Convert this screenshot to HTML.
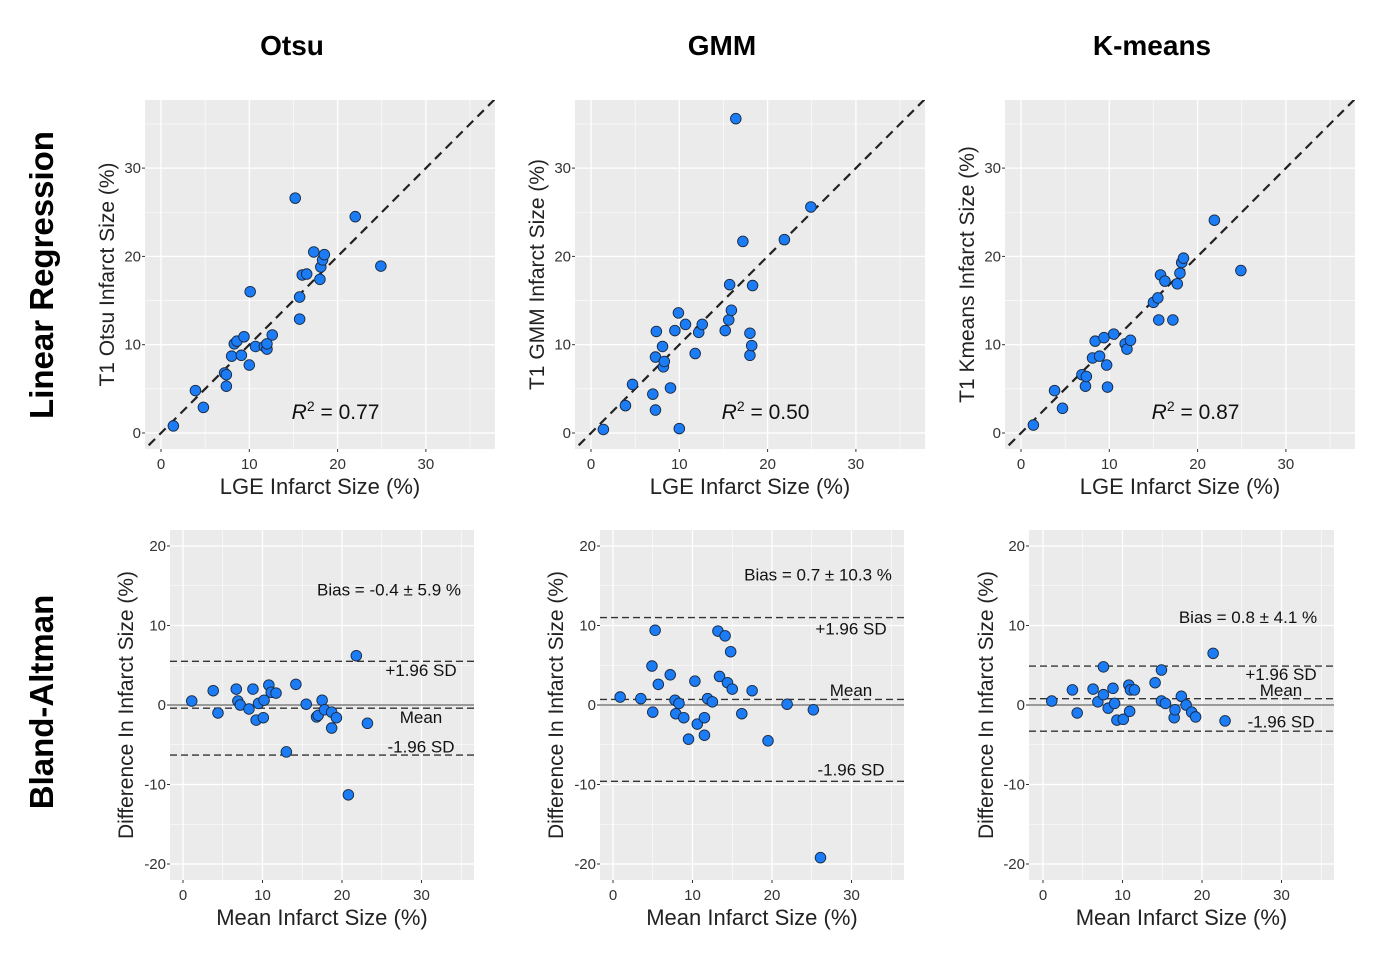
<!DOCTYPE html>
<html><head><meta charset="utf-8"><style>
body{margin:0;background:#fff;width:1400px;height:968px;overflow:hidden}
svg text{font-family:"Liberation Sans",Arial,sans-serif}
</style></head><body>
<svg id="fig" width="1400" height="968" viewBox="0 0 1400 968"></svg>
<script>
// ---- data ----
const otsuLgeX=[1.4,3.9,4.8,7.2,7.4,7.4,8.0,8.3,8.6,9.1,9.4,10.0,10.1,10.7,11.7,12.0,12.0,12.6,15.2,15.7,15.7,16.0,16.5,17.3,18.0,18.1,18.3,18.5,22.0,24.9];
const otsuT1Y=[0.8,4.8,2.9,6.8,6.6,5.3,8.7,10.1,10.4,8.8,10.9,7.7,16.0,9.8,9.8,9.5,10.1,11.1,26.6,15.4,12.9,17.9,18.0,20.5,17.4,18.8,19.6,20.2,24.5,18.9];
const gmmLgeX=[1.4,3.9,4.7,7.0,7.3,7.3,7.4,8.1,8.2,8.3,9.0,9.5,9.9,10.0,10.7,11.8,12.2,12.6,15.2,15.6,15.7,15.9,16.4,17.2,18.0,18.0,18.2,18.3,21.9,24.9];
const gmmT1Y=[0.4,3.1,5.5,4.4,2.6,8.6,11.5,9.8,7.5,8.1,5.1,11.6,13.6,0.5,12.3,9.0,11.4,12.3,11.6,12.8,16.8,13.9,35.6,21.7,11.3,8.8,9.9,16.7,21.9,25.6];
const kmLgeX=[1.4,3.8,4.7,6.9,7.3,7.4,8.1,8.4,8.9,9.4,9.7,9.8,10.5,11.8,12.0,12.4,15.0,15.5,15.6,15.8,16.3,17.2,17.7,18.0,18.2,18.4,21.9,24.9];
const kmT1Y=[0.9,4.8,2.8,6.6,5.3,6.4,8.5,10.4,8.7,10.8,7.7,5.2,11.2,10.1,9.5,10.5,14.8,15.3,12.8,17.9,17.2,12.8,16.9,18.1,19.3,19.8,24.1,18.4];
const r2Labels=["0.77","0.50","0.87"];
const otsuBaX=[1.1,3.8,4.4,6.7,6.9,7.2,8.3,8.8,9.2,9.5,10.1,10.2,10.8,11.1,11.7,13.0,14.2,15.5,16.8,17.0,17.5,17.8,18.7,18.7,19.3,20.8,21.8,23.2];
const otsuBaY=[0.5,1.8,-1.0,2.0,0.5,0.0,-0.5,2.0,-1.9,0.2,-1.6,0.6,2.5,1.6,1.5,-5.9,2.6,0.1,-1.5,-1.3,0.6,-0.6,-2.9,-0.9,-1.6,-11.3,6.2,-2.3];
const gmmBaX=[0.9,3.5,4.9,5.0,5.3,5.7,7.2,7.8,7.9,8.3,8.9,9.5,10.3,10.6,11.5,11.5,11.9,12.5,13.2,13.4,14.1,14.4,14.8,15.0,16.2,17.5,19.5,21.9,25.2,26.1];
const gmmBaY=[1.0,0.8,4.9,-0.9,9.4,2.6,3.8,0.6,-1.1,0.2,-1.6,-4.3,3.0,-2.4,-1.6,-3.8,0.8,0.4,9.3,3.6,8.7,2.8,6.7,2.0,-1.1,1.8,-4.5,0.1,-0.6,-19.2];
const kmBaX=[1.1,3.7,4.3,6.3,6.9,7.6,7.6,8.2,8.8,9.0,9.3,10.1,10.8,10.9,11.0,11.5,14.1,14.9,14.9,15.4,16.5,16.6,17.4,18.0,18.7,19.2,21.4,22.9];
const kmBaY=[0.5,1.9,-1.0,2.0,0.4,4.8,1.3,-0.4,2.1,0.2,-1.9,-1.8,2.5,-0.8,1.9,1.9,2.8,4.4,0.5,0.2,-1.6,-0.6,1.1,0.0,-0.9,-1.5,6.5,-2.0];
const biasVals=[-0.4,0.7,0.8];
const sdVals=[5.9,10.3,4.1];
const regTicks=[0,10,20,30];
const baYTicks=[20,10,0,-10,-20];
const baXTicks=[0,10,20,30];

const NS="http://www.w3.org/2000/svg";
const svg=document.getElementById('fig');
function el(tag,attrs,parent,text){const e=document.createElementNS(NS,tag);for(const k in attrs)e.setAttribute(k,attrs[k]);if(text!==undefined)e.textContent=text;(parent||svg).appendChild(e);return e;}

function panel(cfg){
  const g=el('g',{},svg);
  
  
  const L=cfg.left,R=cfg.right,T=cfg.top,B=cfg.bottom;
  const sx=v=>cfg.x0+v*cfg.kx, sy=v=>cfg.y0-v*cfg.ky;
  const bg=el('rect',{x:L,y:T,width:R-L,height:B-T,fill:'#ebebeb'},g);
  
  
  const xmin=(L-cfg.x0)/cfg.kx,xmax=(R-cfg.x0)/cfg.kx,ymax=(cfg.y0-T)/cfg.ky,ymin=(cfg.y0-B)/cfg.ky;
  for(let v=Math.ceil(xmin/5)*5;v<=xmax;v+=5){el('line',{x1:sx(v),x2:sx(v),y1:T,y2:B,stroke:'#fff','stroke-width':v%10===0?1.3:0.6},g);}
  for(let v=Math.ceil(ymin/5)*5;v<=ymax;v+=5){el('line',{x1:L,x2:R,y1:sy(v),y2:sy(v),stroke:'#fff','stroke-width':v%10===0?1.3:0.6},g);}
  cfg.xt.forEach(v=>{el('line',{x1:sx(v),x2:sx(v),y1:B,y2:B+3,stroke:'#333'},g);
    const t=el('text',{x:sx(v),y:B+20,'text-anchor':'middle','font-size':15,fill:'#333'},g,String(v));
    });
  cfg.yt.forEach(v=>{el('line',{x1:L-3,x2:L,y1:sy(v),y2:sy(v),stroke:'#333'},g);
    const t=el('text',{x:L-4,y:sy(v)+5,'text-anchor':'end','font-size':15,fill:'#333'},g,String(v));
    });
  const cp='clip'+cfg.name;
  const cdef=el('clipPath',{id:cp},g);el('rect',{x:L,y:T,width:R-L,height:B-T},cdef);
  const inner=el('g',{'clip-path':'url(#'+cp+')'},g);
  cfg.draw(inner,sx,sy,xmin,xmax);
  cfg.xs.forEach((v,i)=>{const c=el('circle',{cx:sx(v),cy:sy(cfg.ys[i]),r:5.3,fill:'#1c7cf5',stroke:'#1a2a40','stroke-width':0.9},inner);
    });
  const xt=el('text',{x:(L+R)/2,y:B+45,'text-anchor':'middle','font-size':22,fill:'#222'},g,cfg.xTitle);
  
  const cy=(T+B)/2;
  const yt=el('text',{x:cfg.yTitleX,y:cy,'text-anchor':'middle','font-size':21,fill:'#222',transform:`rotate(-90 ${cfg.yTitleX} ${cy})`},g,cfg.yTitle);
  
  return {g,sx,sy};
}

const regCfg=[
 {name:'otsu-regression',left:145,right:495,x0:161,yTitle:'T1 Otsu Infarct Size (%)',xs:otsuLgeX,ys:otsuT1Y,yTitleX:114},
 {name:'gmm-regression',left:575,right:925,x0:591,yTitle:'T1 GMM Infarct Size (%)',xs:gmmLgeX,ys:gmmT1Y,yTitleX:544},
 {name:'kmeans-regression',left:1005,right:1355,x0:1021,yTitle:'T1 Kmeans Infarct Size (%)',xs:kmLgeX,ys:kmT1Y,yTitleX:974}];
regCfg.forEach((c,i)=>{
  const p=panel(Object.assign({top:100,bottom:449,kx:8.83,y0:433,ky:8.83,xt:regTicks,yt:regTicks,xTitle:'LGE Infarct Size (%)',
   draw:(g,sx,sy,xmin,xmax)=>{const l=el('line',{x1:sx(-5),y1:sy(-5),x2:sx(45),y2:sy(45),stroke:'#222','stroke-width':2.2,'stroke-dasharray':'9,6'},g);
     }},c));
  const t=el('text',{x:p.sx(14.8),y:p.sy(1.6),'font-size':21,fill:'#111'},p.g);
  
  el('tspan',{'font-style':'italic'},t,'R');el('tspan',{dy:-8,'font-size':14},t,'2');el('tspan',{dy:8},t,' = '+r2Labels[i]);
});

const baCfg=[
 {name:'otsu-bland-altman',left:170,right:474,x0:183,xs:otsuBaX,ys:otsuBaY,yTitleX:133,biasCx:389,labCx:421,labY:[14.5,4.4,-1.5,-5.2]},
 {name:'gmm-bland-altman',left:600,right:904,x0:613,xs:gmmBaX,ys:gmmBaY,yTitleX:563,biasCx:818,labCx:851,labY:[16.4,9.6,1.9,-8.1]},
 {name:'kmeans-bland-altman',left:1029,right:1334,x0:1043,xs:kmBaX,ys:kmBaY,yTitleX:993,biasCx:1248,labCx:1281,labY:[11.1,3.9,1.9,-2.1]}];
baCfg.forEach((c,i)=>{
  const b=biasVals[i],s=sdVals[i];
  const p=panel(Object.assign({top:530,bottom:880,kx:7.95,y0:705,ky:7.95,xt:baXTicks,yt:baYTicks,xTitle:'Mean Infarct Size (%)',yTitle:'Difference In Infarct Size (%)',
   draw:(g,sx,sy)=>{
     const z=el('line',{x1:c.left,x2:c.right,y1:sy(0),y2:sy(0),stroke:'#666','stroke-width':1.2},g);
     
     [[b+s,'upper-limit-line'],[b,'mean-line'],[b-s,'lower-limit-line']].forEach(([v,n])=>{
       const l=el('line',{x1:c.left,x2:c.right,y1:sy(v),y2:sy(v),stroke:'#333','stroke-width':1.4,'stroke-dasharray':'7,4'},g);
       });
   }},c));
  const bt=el('text',{x:c.biasCx,y:p.sy(c.labY[0])+6,'text-anchor':'middle','font-size':17,fill:'#111'},p.g,`Bias = ${b} ± ${s} %`);
  
  [['+1.96 SD',c.labY[1],'upper-limit-label'],['Mean',c.labY[2],'mean-label'],['-1.96 SD',c.labY[3],'lower-limit-label']].forEach(([txt,v,n])=>{
    const t=el('text',{x:c.labCx,y:p.sy(v)+6,'text-anchor':'middle','font-size':17,fill:'#111'},p.g,txt);
    });
});

[['Otsu',292],['GMM',722],['K-means',1152]].forEach(([t,x])=>{
  const e=el('text',{x:x,y:55,'text-anchor':'middle','font-size':28,'font-weight':'bold',fill:'#000'},svg,t);
  });
[['Linear Regression',275],['Bland-Altman',702]].forEach(([t,y])=>{
  const e=el('text',{x:53,y:y,'text-anchor':'middle','font-size':33,'font-weight':'bold',fill:'#000',transform:`rotate(-90 53 ${y})`},svg,t);
  });
</script>
</body></html>
